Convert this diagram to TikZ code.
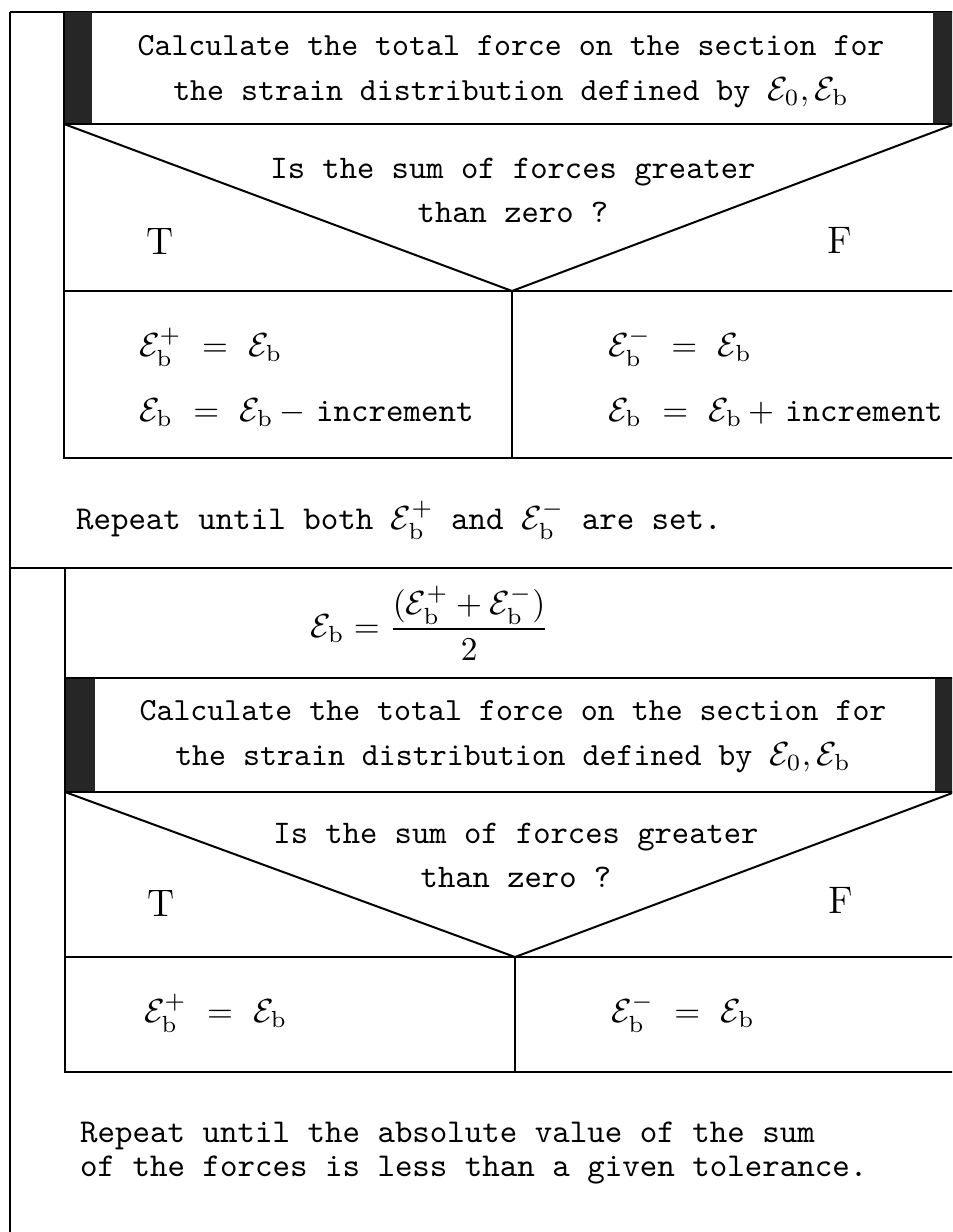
\documentclass[tikz,border=0pt]{standalone}
\usepackage{amsmath,amssymb}
\usepackage{tikz}
\usetikzlibrary{positioning}

\newcommand{\strb}{\mathcal{E}_{\mathrm{b}}}
\newcommand{\strbp}{\mathcal{E}_{\mathrm{b}}^{+}}
\newcommand{\strbm}{\mathcal{E}_{\mathrm{b}}^{-}}
\newcommand{\strnull}{\mathcal{E}_{\mathrm{0}}}

\begin{document}
\begin{tikzpicture}[
    x=0.3pt, y=-0.3pt,
    line width=0.6pt,
    calc/.style={font=\fontsize{9.7}{13.5}\selectfont\ttfamily, align=center},
    ask/.style={font=\fontsize{9.9}{13.2}\selectfont\ttfamily, align=center},
    truth/.style={font=\fontsize{11.5}{12}\selectfont},
    assign/.style={font=\fontsize{10}{12}\selectfont, anchor=west, inner sep=0pt},
    loopnote/.style={font=\fontsize{10}{10}\selectfont\ttfamily, anchor=west, align=left, inner sep=0pt},
    bar/.style={fill=black!85}
]

    \useasboundingbox (0,0) rectangle (952,1232);
    \fill[white] (0,0) rectangle (952,1232);
    \clip (0,0) rectangle (952,1232);

    % Outer frame
    \draw (10,12) -- (10,1240);
    \draw (10,12) -- (960,12);
    \draw (10,568) -- (960,568);

    % First loop: find the bracket
    \fill[bar] (64,12) rectangle (92,124);
    \fill[bar] (933,12) rectangle (960,124);
    \draw (64,12) -- (64,458) -- (960,458);
    \draw (64,124) -- (960,124);
    \draw (64,124) -- (512,291) -- (955,124);
    \draw (64,291) -- (960,291);
    \draw (512,291) -- (512,458);

    \node[calc] (c1) at (511,72) {Calculate the total force on the section for\\
        the strain distribution defined by $\strnull, \strb$};
    \node[ask] (q1) at (513,190) {Is the sum of forces greater\\than zero ?};
    \node[truth] (t1) at (160,242) {T};
    \node[truth] (f1) at (840,240) {F};
    \node[assign] (tp1) at (138,347) {$\strbp\ =\ \strb$};
    \node[assign] (ti1) at (138,413) {$\strb\ =\ \strb\,-$\ \texttt{increment}};
    \node[assign] (fm1) at (607,347) {$\strbm\ =\ \strb$};
    \node[assign] (fi1) at (607,413) {$\strb\ =\ \strb\,+$\ \texttt{increment}};
    \node[loopnote] (r1) at (75,520) {Repeat until both $\strbp$ and $\strbm$ are set.};

    % Second loop: bisection
    \fill[bar] (65,678) rectangle (95,792);
    \fill[bar] (935,678) rectangle (960,792);
    \draw (65,568) -- (65,1072) -- (960,1072);
    \draw (65,678) -- (960,678);
    \draw (65,792) -- (960,792);
    \draw (65,792) -- (515,957) -- (955,792);
    \draw (65,957) -- (960,957);
    \draw (515,957) -- (515,1072);

    \node[assign, anchor=center] (m2) at (430,623) {$\strb = \dfrac{(\strbp + \strbm)}{2}$};
    \node[calc] (c2) at (513,737) {Calculate the total force on the section for\\
        the strain distribution defined by $\strnull, \strb$};
    \node[ask] (q2) at (516,855) {Is the sum of forces greater\\than zero ?};
    \node[truth] (t2) at (161,903) {T};
    \node[truth] (f2) at (841,900) {F};
    \node[assign] (tp2) at (143,1013) {$\strbp\ =\ \strb$};
    \node[assign] (fm2) at (610,1013) {$\strbm\ =\ \strb$};
    \node[loopnote] (r2) at (79,1153) {Repeat until the absolute value of the sum\\
        of the forces is less than a given tolerance.};

\end{tikzpicture}
\end{document}
